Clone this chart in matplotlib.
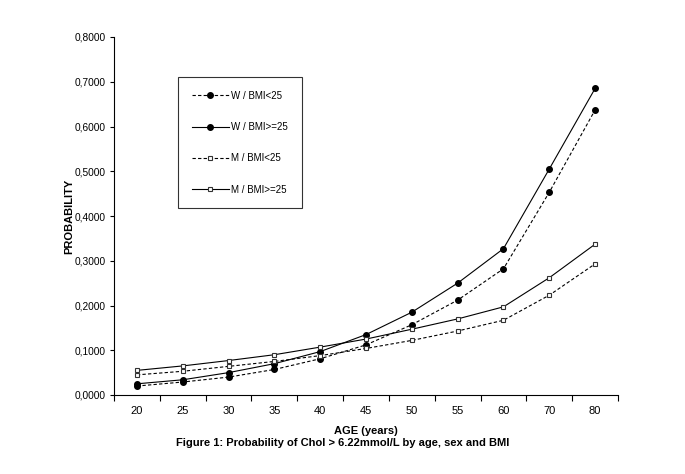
import matplotlib
matplotlib.use("Agg")
import matplotlib.pyplot as plt
from matplotlib.ticker import FuncFormatter, FixedLocator

ages = ["20", "25", "30", "35", "40", "45", "50", "55", "60", "70", "80"]
w_low = [0.020, 0.029, 0.040, 0.057, 0.081, 0.112, 0.157, 0.212, 0.282, 0.453, 0.637]
w_high = [0.025, 0.034, 0.050, 0.070, 0.097, 0.135, 0.185, 0.250, 0.327, 0.505, 0.685]
m_low = [0.045, 0.053, 0.064, 0.075, 0.088, 0.104, 0.122, 0.143, 0.167, 0.223, 0.293]
m_high = [0.055, 0.065, 0.077, 0.090, 0.107, 0.125, 0.147, 0.170, 0.197, 0.262, 0.337]
labels = ["W / BMI<25", "W / BMI>=25", "M / BMI<25", "M / BMI>=25"]

plt.rcParams['font.family'] = ['Liberation Sans', 'DejaVu Sans']

fig = plt.figure(figsize=(6.85, 4.74), dpi=100)
ax = fig.add_axes([114/685, 1-395/474, (618-114)/685, (395-37)/474])

x = list(range(len(ages)))
lw = 0.8
ax.plot(x, w_low, ls=(0, (3, 2)), color='black', lw=lw, marker='o', ms=4,
        mfc='black', mec='black', label=labels[0])
ax.plot(x, w_high, ls='-', color='black', lw=lw, marker='o', ms=4,
        mfc='black', mec='black', label=labels[1])
ax.plot(x, m_low, ls=(0, (3, 2)), color='black', lw=lw, marker='s', ms=3.5,
        mfc='white', mec='#333333', mew=0.8, label=labels[2])
ax.plot(x, m_high, ls='-', color='black', lw=lw, marker='s', ms=3.5,
        mfc='white', mec='#333333', mew=0.8, label=labels[3])

ax.set_xlim(-0.5, len(ages) - 0.5)
ax.set_ylim(0, 0.8)
ax.set_xticks(x)
ax.set_xticklabels(ages, fontsize=8)
ax.xaxis.set_minor_locator(FixedLocator([i - 0.5 for i in range(len(ages) + 1)]))
ax.tick_params(axis='x', which='major', length=0, pad=8)
ax.tick_params(axis='x', which='minor', length=4, direction='out', width=0.8)
ax.set_yticks([i / 10 for i in range(9)])
ax.yaxis.set_major_formatter(FuncFormatter(lambda v, p: f"{v:.4f}".replace('.', ',')))
ax.tick_params(axis='y', length=3, direction='out', labelsize=7.3, width=0.8, pad=3)
for s in ['top', 'right']:
    ax.spines[s].set_visible(False)
for s in ['left', 'bottom']:
    ax.spines[s].set_linewidth(0.8)

ax.set_ylabel("PROBABILITY", fontsize=8, fontweight='bold')
ax.yaxis.set_label_coords((74-114)/504, 0.5)
ax.set_xlabel("AGE (years)", fontsize=8, fontweight='bold', labelpad=7)

leg = ax.legend(loc='upper left', bbox_to_anchor=((178-114)/504, (395-77)/358),
                fontsize=7, frameon=True, fancybox=False, edgecolor='black',
                labelspacing=2.2, handlelength=3.8, borderpad=1.4,
                handletextpad=0.3, borderaxespad=0)
leg.get_frame().set_linewidth(0.8)

fig.text(0.5, 1 - 443/474, "Figure 1: Probability of Chol > 6.22mmol/L by age, sex and BMI",
         ha='center', va='center', fontsize=8, fontweight='bold')

fig.savefig("out.png", dpi=100)
